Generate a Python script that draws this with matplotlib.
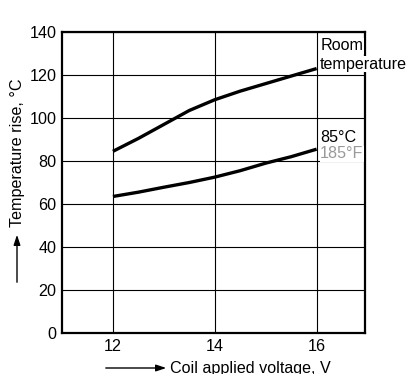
import matplotlib
matplotlib.use("Agg")
import matplotlib.pyplot as plt

plt.rcParams['font.family'] = ['Liberation Sans', 'DejaVu Sans']

# values
volts = [12, 12.5, 13, 13.5, 14, 14.5, 15, 15.5, 16]
room_temp = [84.5, 90.5, 97, 103.5, 108.5, 112.5, 116, 119.5, 123]
hot_85 = [63.5, 65.5, 67.8, 70, 72.5, 75.5, 79, 82, 85.5]
xticks = [12, 14, 16]
yticks = [0, 20, 40, 60, 80, 100, 120, 140]

fs = 11.6

fig = plt.figure(figsize=(4.08, 3.74), dpi=100)
ax = fig.add_axes([62/408, 41/374, 303/408, 301/374])

ax.plot(volts, room_temp, color="black", lw=2.4, solid_capstyle="butt", zorder=3)
ax.plot(volts, hot_85, color="black", lw=2.4, solid_capstyle="butt", zorder=3)

ax.set_xlim(11, 16.95)
ax.set_ylim(0, 140)
ax.set_xticks(xticks)
ax.set_yticks(yticks)
ax.tick_params(length=0, labelsize=fs, pad=4)
ax.grid(True, color="black", lw=0.8)
for s in ax.spines.values():
    s.set_linewidth(1.6)

bb = dict(facecolor="white", edgecolor="none", pad=0.2)
ax.text(16.07, 133.5, "Room", fontsize=fs, va="center", ha="left", bbox=bb, clip_on=False, zorder=5)
ax.text(16.07, 125, "temperature", fontsize=fs, va="center", ha="left", bbox=bb, clip_on=False, zorder=5)
ax.text(16.07, 91, "85°C", fontsize=fs, va="center", ha="left", bbox=bb, clip_on=False, zorder=5)
ax.text(16.07, 83.3, "185°F", fontsize=fs, va="center", ha="left", color="#999999", bbox=bb, clip_on=False, zorder=5)

# axis labels with arrows (figure coords)
fig.text(18/408, 1 - 153/374, "Temperature rise, °C", rotation=90, fontsize=fs, ha="center", va="center")
fig.text(170/408, 1 - 368/374, "Coil applied voltage, V", fontsize=fs, ha="left", va="center")
ax.annotate("", xy=(17/408, 1 - 232/374), xytext=(17/408, 1 - 285/374), xycoords="figure fraction",
            arrowprops=dict(arrowstyle="-|>,head_length=0.6,head_width=0.2", color="black", lw=1, mutation_scale=10))
ax.annotate("", xy=(169/408, 1 - 368/374), xytext=(103/408, 1 - 368/374), xycoords="figure fraction",
            arrowprops=dict(arrowstyle="-|>,head_length=0.6,head_width=0.2", color="black", lw=1, mutation_scale=10))

fig.savefig("out.png", dpi=100)
